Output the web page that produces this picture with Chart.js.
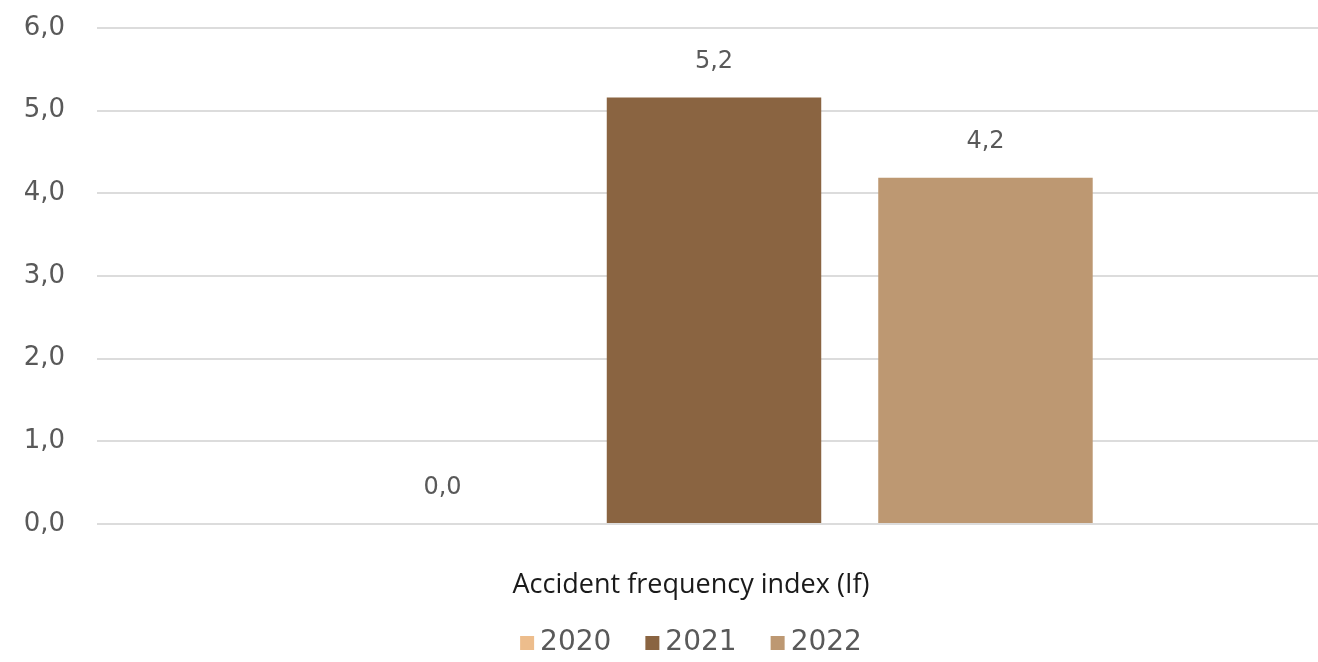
<!DOCTYPE html>
<html>
<head>
<meta charset="utf-8">
<script src="https://cdn.jsdelivr.net/npm/chart.js@4.4.0/dist/chart.umd.min.js"></script>
<style>
  html, body { margin: 0; padding: 0; background: #fff; overflow: hidden; }
  #wrap { width: 1331px; height: 662px; }
</style>
</head>
<body>
<div id="wrap"><canvas id="chart"></canvas></div>
<script>
/* DATA */
const categories = ["Accident frequency index (If)"];
const years = ["2020", "2021", "2022"];
const values2020 = [0.0];
const values2021 = [5.16];
const values2022 = [4.19];
const yTicks = [0, 1, 2, 3, 4, 5, 6];

const colors = ["#EDBD8C", "#8A6441", "#BD9872"];
const textColor = "#595959";
const font = "'DejaVu Sans', sans-serif";
const titleShift = -23;

/* comma decimal like the original */
function fmt(v) {
  return v.toFixed(1).replace(".", ",");
}

/* value labels above each bar */
const barLabels = {
  id: "barLabels",
  afterDatasetsDraw(chart) {
    const ctx = chart.ctx;
    ctx.save();
    ctx.font = "24px " + font;
    ctx.fillStyle = textColor;
    ctx.textAlign = "center";
    ctx.textBaseline = "middle";
    chart.data.datasets.forEach((ds, i) => {
      const meta = chart.getDatasetMeta(i);
      meta.data.forEach((bar, j) => {
        ctx.fillText(fmt(ds.data[j]), bar.x, bar.y - 36);
      });
    });
    ctx.restore();
  }
};

/* legend drawn under the category label */
const bottomLegend = {
  id: "bottomLegend",
  afterDraw(chart) {
    const ctx = chart.ctx;
    const box = 14, gap = 6, spacing = 34;
    ctx.save();
    ctx.font = "28px " + font;
    ctx.textBaseline = "middle";
    ctx.textAlign = "left";
    const items = chart.data.datasets.map(ds => ({
      text: ds.label, color: ds.backgroundColor, w: ctx.measureText(ds.label).width
    }));
    const total = items.reduce((s, it) => s + box + gap + it.w, 0) + spacing * (items.length - 1);
    const cx = chart.scales.x.getPixelForValue(0) + titleShift;
    const cy = chart.height - 20;
    let x = cx - total / 2;
    items.forEach(it => {
      ctx.fillStyle = it.color;
      ctx.fillRect(x, cy - box / 2 + 1, box, box);
      x += box + gap;
      ctx.fillStyle = textColor;
      ctx.fillText(it.text, x, cy + 1);
      x += it.w + spacing;
    });
    ctx.restore();
  }
};

const series = [values2020, values2021, values2022];

new Chart(document.getElementById("chart"), {
  type: "bar",
  data: {
    labels: categories,
    datasets: years.map((y, i) => ({
      label: y,
      data: series[i],
      backgroundColor: colors[i],
      borderWidth: 0,
      barPercentage: 0.79,
      categoryPercentage: 0.66
    }))
  },
  options: {
    responsive: true,
    maintainAspectRatio: false,
    animation: false,
    layout: { padding: { top: 0, left: 21, right: 0, bottom: 44 } },
    plugins: {
      tooltip: { enabled: false },
      legend: { display: false }
    },
    scales: {
      x: {
        grid: { display: false },
        border: { display: false },
        ticks: {
          color: "#1a1a1a",
          font: { family: "'Open Sans', sans-serif", size: 27 },
          padding: 37,
          labelOffset: titleShift,
          maxRotation: 0
        },
        afterFit: axis => {
          axis.height = 94;
          axis.paddingLeft = 0;
          axis.paddingRight = 0;
        }
      },
      y: {
        min: 0,
        max: 6,
        afterBuildTicks: axis => { axis.ticks = yTicks.map(v => ({ value: v })); },
        grid: { color: "#DCDCDC", lineWidth: 2, drawTicks: false },
        border: { display: false },
        ticks: {
          color: textColor,
          font: { family: font, size: 26 },
          padding: 32,
          callback: v => fmt(v)
        },
        afterFit: axis => {
          axis.width = 76;
          axis.paddingTop = 28;
          axis.paddingBottom = 0;
        }
      }
    }
  },
  plugins: [barLabels, bottomLegend]
});
</script>
</body>
</html>
